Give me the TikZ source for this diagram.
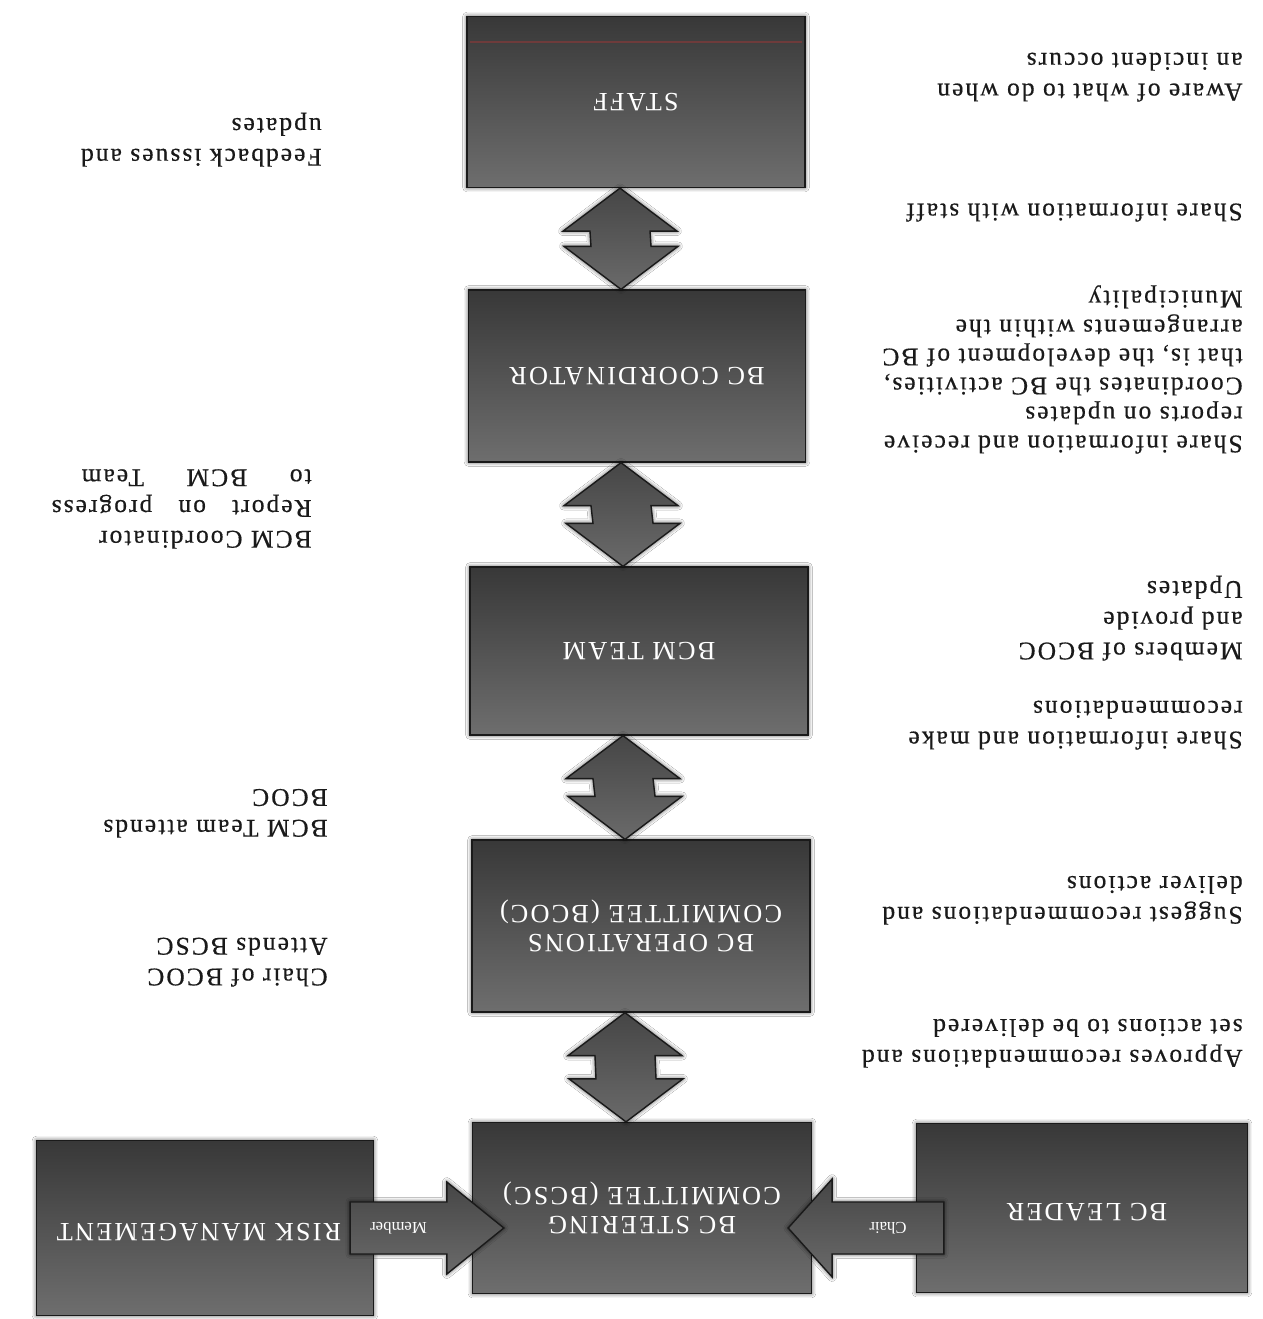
\documentclass[tikz,border=0pt]{standalone}
\usepackage{fontspec}
\setmainfont{Liberation Serif}
\newfontfamily\annfont[LetterSpace=8,FakeBold=0.5]{Liberation Serif}
\newfontfamily\boxfont[LetterSpace=8]{Liberation Serif}
\usetikzlibrary{calc,shadows.blur}
\definecolor{boxtop}{HTML}{383838}
\definecolor{boxbot}{HTML}{6E6E6E}
\definecolor{arrtop}{HTML}{464646}
\definecolor{arrbot}{HTML}{6A6A6A}
\definecolor{edgecol}{HTML}{1A1A1A}
\definecolor{inktext}{HTML}{1A1A1A}
\definecolor{scanred}{HTML}{7A3A3A}

\newcommand{\vdarrow}[3]{%
  \coordinate (#1a) at ($(#2.south)+(-16,0)$);
  \coordinate (#1b) at ($(#3.north)+(-16,0)$);
  \draw[blockarrow] (#1a) -- ($(#1a)+(57,43)$) -- ($(#1a)+(30,43)$)
    -- ($(#1b)+(30,-43)$) -- ($(#1b)+(57,-43)$) -- (#1b)
    -- ($(#1b)+(-57,-43)$) -- ($(#1b)+(-30,-43)$)
    -- ($(#1a)+(-30,43)$) -- ($(#1a)+(-57,43)$) -- cycle;}

\tikzset{
  box/.style={draw=edgecol, line width=0.8pt, top color=boxtop, bottom color=boxbot,
    inner sep=0pt,
    blur shadow={shadow xshift=0pt, shadow yshift=0pt, shadow blur radius=2.5pt, shadow opacity=75}},
  blockarrow/.style={draw=edgecol, line width=0.8pt, top color=arrtop, bottom color=arrbot,
    blur shadow={shadow xshift=0pt, shadow yshift=0pt, shadow blur radius=2.5pt, shadow opacity=75}},
  boxlab/.style={rotate=180, align=center, text=white, inner sep=0pt,
    font={\boxfont\fontsize{15pt}{16.5pt}\selectfont}},
  arrlab/.style={rotate=180, text=white, inner sep=0pt,
    font={\fontsize{9.5pt}{11pt}\selectfont}},
  ann/.style={rotate=180, anchor=north west, align=left, inner sep=0pt, text=inktext,
    font={\annfont\fontsize{14.5pt}{17.5pt}\selectfont}},
  anntight/.style={ann, font={\annfont\fontsize{14.5pt}{16.5pt}\selectfont}},
}

\begin{document}
\begin{tikzpicture}[x=0.02cm, y=-0.02cm]
\useasboundingbox (0,0) rectangle (1263,1319);
\fill[white] (0,0) rectangle (1263,1319);

% boxes
\node[box, minimum width=6.76cm, minimum height=3.42cm] (staff) at (636,102) {};
\node[box, minimum width=6.74cm, minimum height=3.44cm] (coord) at (637,376) {};
\node[box, minimum width=6.76cm, minimum height=3.36cm] (bcm) at (639,651) {};
\node[box, minimum width=6.76cm, minimum height=3.44cm] (ops) at (641,926) {};
\node[box, minimum width=6.78cm, minimum height=3.42cm] (steer) at (642,1208) {};
\node[box, minimum width=6.62cm, minimum height=3.38cm] (leader) at (1082,1208) {};
\node[box, minimum width=6.74cm, minimum height=3.50cm] (risk) at (205,1228) {};

\draw[scanred, line width=0.9pt, opacity=0.8] ($(staff.north west)+(4,26)$) -- ($(staff.north east)+(-4,26)$);

% vertical double arrows
\vdarrow{v1}{staff}{coord}
\vdarrow{v2}{coord}{bcm}
\vdarrow{v3}{bcm}{ops}
\vdarrow{v4}{ops}{steer}

% Chair arrow (leader -> steering)
\coordinate (chtip) at ($(steer.east)+(-24,20)$);
\coordinate (chtail) at ($(leader.west)+(28,20)$);
\draw[blockarrow] (chtip) -- ($(chtip)+(44,-49)$) -- ($(chtip)+(44,-26)$)
  -- ($(chtail)+(0,-26)$) -- ($(chtail)+(0,26)$) -- ($(chtip)+(44,26)$)
  -- ($(chtip)+(44,49)$) -- cycle;
\node[arrlab] (chair-t) at ($($(chtip)+(44,0)$)!0.5!(chtail)$) {Chair};

% Member arrow (risk -> steering)
\coordinate (mbtip) at ($(steer.west)+(32,20)$);
\coordinate (mbtail) at ($(risk.east)+(-24,0)$);
\draw[blockarrow] (mbtip) -- ($(mbtip)+(-57,-46)$) -- ($(mbtip)+(-57,-26)$)
  -- ($(mbtail)+(0,-26)$) -- ($(mbtail)+(0,26)$) -- ($(mbtip)+(-57,26)$)
  -- ($(mbtip)+(-57,46)$) -- cycle;
\node[arrlab] (member-t) at ($($(mbtip)+(-57,0)$)!0.5!(mbtail)$) {Member};

% box labels
\node[boxlab] (staff-t) at (staff) {STAFF};
\node[boxlab] (coord-t) at (coord) {BC COORDINATOR};
\node[boxlab] (bcm-t) at (bcm) {BCM TEAM};
\node[boxlab] (ops-t) at (ops) {BC OPERATIONS\\COMMITTEE (BCOC)};
\node[boxlab] (steer-t) at (steer) {BC STEERING\\COMMITTEE (BCSC)};
\node[boxlab] (leader-t) at ($(leader)+(5,4)$) {BC LEADER};
\node[boxlab] (risk-t) at ($(risk)+(-6,4)$) {RISK MANAGEMENT};

% right-hand annotations
\node[ann] (a-aware) at (1243,102) {Aware of what to do when\\an incident occurs};
\node[ann] (a-sharestaff) at (1243,222) {Share information with staff};
\node[anntight] (a-coord) at (1243,454) {Share information and receive\\reports on updates\\Coordinates the BC activities,\\that is, the development of BC\\arrangements within the\\Municipality};
\node[ann] (a-members) at (1243,661) {Members of BCOC\\and provide\\Updates};
\node[ann] (a-sharemake) at (1243,750) {Share information and make\\recommendations};
\node[ann] (a-suggest) at (1243,925) {Suggest recommendations and\\deliver actions};
\node[ann] (a-approve) at (1243,1068) {Approves recommendations and\\set actions to be delivered};

% left-hand annotations
\node[ann] (a-feedback) at (322,167) {Feedback issues and\\updates};
\node[ann] (a-report) at (312,549) {BCM Coordinator\\\makebox[5.2cm][s]{Report on progress}\\\makebox[4.6cm][s]{to BCM Team}};
\node[ann] (a-attends) at (328,838) {BCM Team attends\\BCOC};
\node[ann] (a-chair) at (328,987) {Chair of BCOC\\Attends BCSC};
\end{tikzpicture}
\end{document}
